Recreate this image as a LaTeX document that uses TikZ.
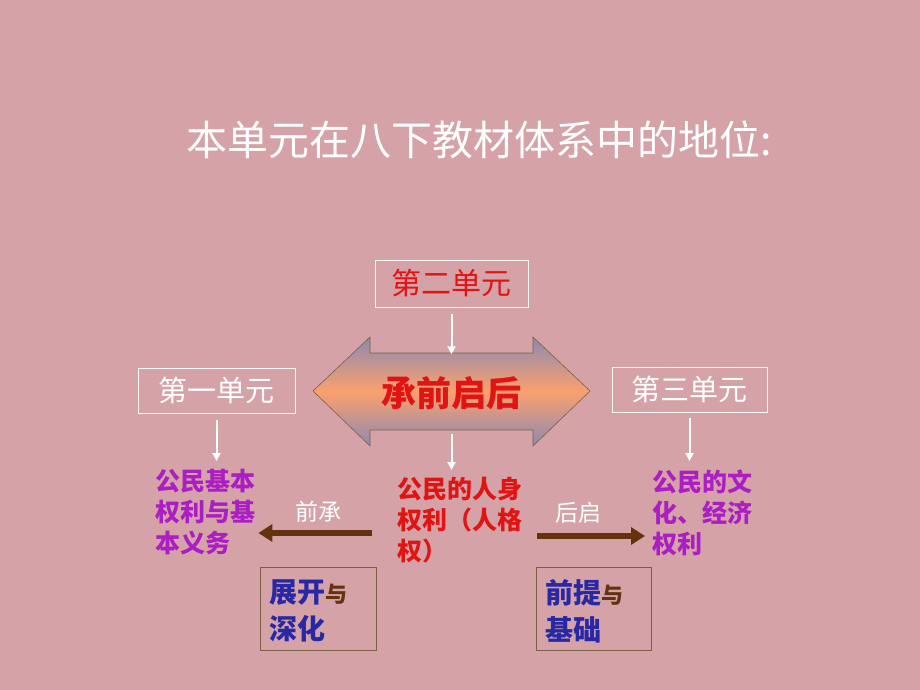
\documentclass[tikz,border=0pt]{standalone}
\usepackage{fontspec}
\setmainfont{Noto Sans CJK SC}
\usetikzlibrary{arrows.meta}
\definecolor{bg}{RGB}{213,162,167}
\definecolor{myred}{RGB}{225,20,20}
\definecolor{mypurple}{RGB}{170,30,195}
\definecolor{myblue}{RGB}{40,40,165}
\definecolor{mybrown}{RGB}{100,50,15}
\definecolor{boxline}{RGB}{125,95,70}
\definecolor{arrtop}{RGB}{140,138,178}
\definecolor{arrmid}{RGB}{250,160,110}
\tikzset{
  unitbox/.style={draw=white!92!bg, line width=0.8pt, inner sep=0pt, font=\fontsize{29}{32}\selectfont},
  wline/.style={draw=white, line width=2pt, -{Triangle[width=8pt,length=8pt]}},
  barrow/.style={draw=mybrown, line width=5.5pt, -{Triangle[width=17pt,length=14pt]}},
  content/.style={anchor=north west, inner sep=0pt, align=left, font=\fontsize{25}{31}\selectfont\bfseries},
  lbl/.style={text=white, inner sep=0pt, font=\fontsize{23}{25}\selectfont},
  tailbox/.style={draw=boxline, line width=0.8pt, minimum width=116pt, minimum height=83pt, inner sep=0pt}
}
\begin{document}
\begin{tikzpicture}[x=1pt,y=-1pt]
\fill[bg] (0,0) rectangle (920,690);
\useasboundingbox (0,0) rectangle (920,690);

\node[text=white, inner sep=0pt, font=\fontsize{41}{44}\selectfont] (title) at (479,140) {本单元在八下教材体系中的地位:};

\node[unitbox, text=myred, minimum width=153pt, minimum height=47pt, font=\fontsize{30}{32}\selectfont] (u2) at (451.5,283.5) {第二单元};
\node[unitbox, text=white, minimum width=157pt, minimum height=45pt] (u1) at (216.5,390.5) {第一单元};
\node[unitbox, text=white, minimum width=155pt, minimum height=45pt] (u3) at (689.5,389.5) {第三单元};

% double arrow
\shade[top color=arrtop, bottom color=arrtop, middle color=arrmid, draw=boxline, line width=0.6pt]
  (313,391) -- (370,337) -- (370,353) -- (533,353) -- (533,337) -- (590,391)
  -- (533,446) -- (533,430) -- (370,430) -- (370,446) -- cycle;
\node[minimum width=163pt, minimum height=77pt, inner sep=0pt, text=myred, font=\fontsize{35}{38}\selectfont\bfseries] (core) at (451.5,393) {承前启后};

\node[content, text=mypurple] (lt) at (155,469) {公民基本\\权利与基\\本义务};
\node[content, text=myred] (mt) at (397,477) {公民的人身\\权利（人格\\权）};
\node[content, text=mypurple] (rt) at (652,470) {公民的文\\化、经济\\权利};

\draw[wline, shorten <=7pt] (u2.south) -- (core.north);
\draw[wline, shorten <=7pt, shorten >=8pt] (u1.south) -- (u1.south |- lt.north);
\draw[wline, shorten <=6pt, shorten >=9pt] (u3.south) -- (u3.south |- rt.north);
\draw[wline, shorten <=2pt, shorten >=7pt] (core.south) -- (core.south |- mt.north);

\node[lbl] (qc) at (318,512) {前承};
\node[lbl] (hq) at (578,513) {后启};
\draw[barrow, shorten <=25pt, shorten >=3pt] (mt.west |- 0,533) -- (lt.east |- 0,533);
\draw[barrow, shorten <=15pt, shorten >=7pt] (mt.east |- 0,536) -- (rt.west |- 0,536);

\node[tailbox] (b1) at (318,608.5) {};
\node[tailbox, minimum width=115pt] (b2) at (593.5,608.5) {};
\node[anchor=west, inner sep=0pt, align=left, font=\fontsize{28}{37}\selectfont\bfseries] (b1t) at (269,611)
  {\textcolor{myblue}{展开}{\fontsize{22}{37}\selectfont\textcolor{mybrown}{与}}\\\textcolor{myblue}{深化}};
\node[anchor=west, inner sep=0pt, align=left, font=\fontsize{28}{37}\selectfont\bfseries] (b2t) at (545,611)
  {\textcolor{myblue}{前提}{\fontsize{22}{37}\selectfont\textcolor{mybrown}{与}}\\\textcolor{myblue}{基础}};
\end{tikzpicture}
\end{document}
